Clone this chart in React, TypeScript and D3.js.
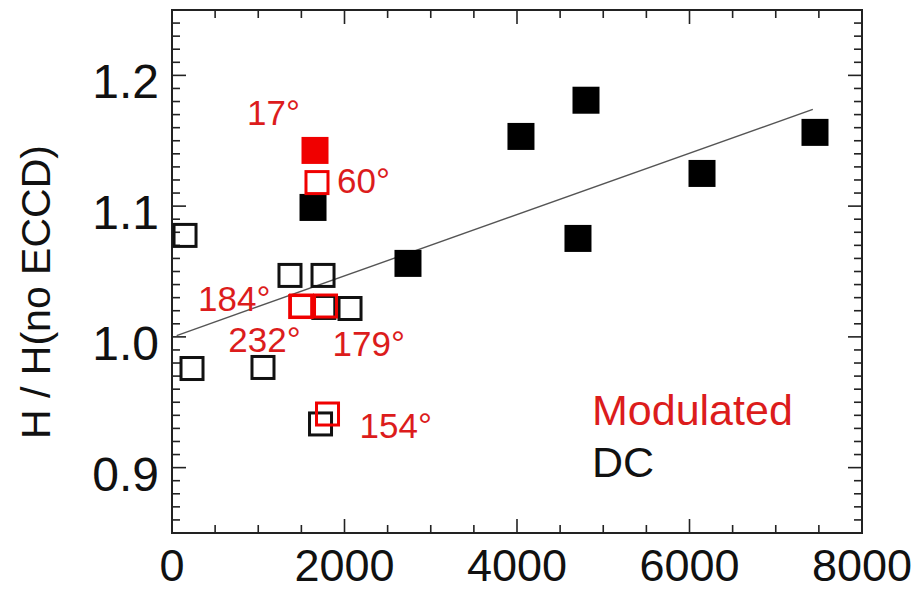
import React from "react";
import * as d3 from "d3";

// ---- data ----
const dcFilledX = [1635, 2736, 4046, 4800, 4707, 6145, 7455];
const dcFilledY = [1.099, 1.0562, 1.1533, 1.181, 1.0753, 1.125, 1.1564];

const dcOpenX = [151, 232, 1055, 1368, 1751, 2064, 1760, 1722];
const dcOpenY = [1.0776, 0.9758, 0.9766, 1.047, 1.047, 1.0217, 1.0225, 0.9334];

const modAngles = ["17°", "60°", "184°", "232°", "179°", "154°"];
const modX = [1658, 1681, 1501, 1492, 1780, 1803];
const modY = [1.1426, 1.118, 1.0236, 1.0232, 1.0236, 0.941];
const modFilled = [true, false, false, false, false, false];

const fitX = [54, 7430];
const fitY = [1.001, 1.174];

const xTickValues = [0, 2000, 4000, 6000, 8000];
const yTickValues = [0.9, 1.0, 1.1, 1.2];
const yTickLabels = ["0.9", "1.0", "1.1", "1.2"];

const legendLabels = ["Modulated", "DC"];

// ---- layout / style (not data) ----
const W = 922;
const H = 592;
const L = 172, R = 862, T = 10, B = 533;
const RED = "#f00000";
const RED_TEXT = "#dc1c1c";
const FONT = "'Liberation Sans', Arial, Helvetica, sans-serif";
// label offsets for each modulated point: [dx, dy, anchor]
const labelOffsets: [number, number, string][] = [
  [-15, -25, "end"],
  [20, 10, "start"],
  [-31, 5, "end"],
  [0, 45, "end"],
  [7, 50, "start"],
  [32, 24, "start"],
];

export default function App() {
  const x = d3.scaleLinear().domain([0, 8000]).range([L, R]);
  const y = d3.scaleLinear().domain([0.85, 1.25]).range([B, T]);

  const xMinor = d3.range(0, 8001, 500);
  const yMinor = d3.range(85, 126, 1).map((v) => v / 100);
  const isMajorX = (v: number) => v % 2000 === 0;
  const isMajorY = (v: number) => Math.abs(v * 10 - Math.round(v * 10)) < 1e-6;

  const FS = 24; // filled size
  const OS = 22; // open size (stroke 3)

  const line = d3
    .line<number>()
    .x((_, i) => x(fitX[i]))
    .y((_, i) => y(fitY[i]));

  return (
    <svg
      width={W}
      height={H}
      style={{ position: "absolute", left: 0, top: 0, background: "#fff" }}
      fontFamily={FONT}
    >
      <rect x={0} y={0} width={W} height={H} fill="#fff" />
      {/* ticks on all four sides */}
      {xMinor.map((v) => {
        const len = isMajorX(v) ? 14 : 8;
        return (
          <g key={"xt" + v} stroke="#222" strokeWidth={1.6}>
            <line x1={x(v)} x2={x(v)} y1={B} y2={B - len} />
            <line x1={x(v)} x2={x(v)} y1={T} y2={T + len} />
          </g>
        );
      })}
      {yMinor.map((v) => {
        const len = isMajorY(v) ? 14 : 8;
        return (
          <g key={"yt" + v} stroke="#222" strokeWidth={1.6}>
            <line x1={L} x2={L + len} y1={y(v)} y2={y(v)} />
            <line x1={R} x2={R - len} y1={y(v)} y2={y(v)} />
          </g>
        );
      })}
      <rect x={L} y={T} width={R - L} height={B - T} fill="none" stroke="#222" strokeWidth={2} />

      {/* tick labels */}
      {xTickValues.map((v) => (
        <text key={"xl" + v} x={x(v)} y={581} fontSize={45} textAnchor="middle" fill="#111">
          {String(v)}
        </text>
      ))}
      {yTickValues.map((v, i) => (
        <text key={"yl" + v} x={159} y={y(v) + 23} fontSize={48} textAnchor="end" fill="#111">
          {yTickLabels[i]}
        </text>
      ))}
      <text
        transform={`translate(50,292) rotate(-90)`}
        fontSize={41}
        textAnchor="middle"
        fill="#111"
      >
        H / H(no ECCD)
      </text>

      {/* fit line */}
      <path d={line(fitX) || ""} fill="none" stroke="#555" strokeWidth={1.4} />

      {/* DC points */}
      {dcOpenX.map((v, i) => (
        <rect
          key={"do" + i}
          x={x(v) - OS / 2}
          y={y(dcOpenY[i]) - OS / 2}
          width={OS}
          height={OS}
          fill="none"
          stroke="#111"
          strokeWidth={3}
        />
      ))}
      {dcFilledX.map((v, i) => (
        <rect
          key={"df" + i}
          x={x(v) - FS / 2 - 1.5}
          y={y(dcFilledY[i]) - FS / 2 - 1.5}
          width={FS + 3}
          height={FS + 3}
          fill="#000"
        />
      ))}

      {/* Modulated points */}
      {modX.map((v, i) =>
        modFilled[i] ? (
          <rect
            key={"mf" + i}
            x={x(v) - FS / 2 - 1.5}
            y={y(modY[i]) - FS / 2 - 1.5}
            width={FS + 3}
            height={FS + 3}
            fill={RED}
          />
        ) : (
          <rect
            key={"mo" + i}
            x={x(v) - OS / 2}
            y={y(modY[i]) - OS / 2}
            width={OS}
            height={OS}
            fill="none"
            stroke={RED}
            strokeWidth={3}
          />
        )
      )}
      {modX.map((v, i) => (
        <text
          key={"ml" + i}
          x={x(v) + labelOffsets[i][0]}
          y={y(modY[i]) + labelOffsets[i][1]}
          fontSize={35}
          textAnchor={labelOffsets[i][2] as any}
          fill={RED_TEXT}
        >
          {modAngles[i]}
        </text>
      ))}

      {/* legend */}
      <text x={592} y={425} fontSize={43} fill={RED_TEXT}>
        {legendLabels[0]}
      </text>
      <text x={592} y={477} fontSize={43} fill="#111">
        {legendLabels[1]}
      </text>
    </svg>
  );
}
